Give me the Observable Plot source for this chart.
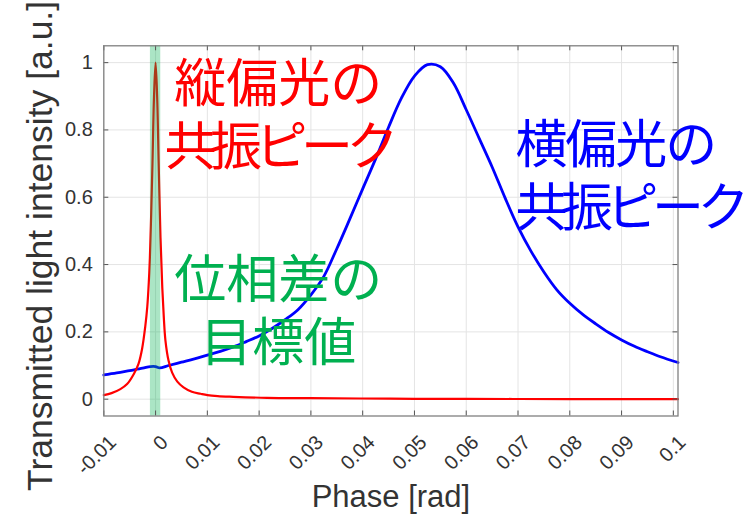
<!DOCTYPE html>
<html>
<head>
<meta charset="utf-8">
<script src="https://cdn.jsdelivr.net/npm/d3@7"></script>
<script src="https://cdn.jsdelivr.net/npm/@observablehq/plot@0.6"></script>
<style>
  html, body { margin: 0; padding: 0; background: #ffffff; }
  #chart svg { display: block; }
</style>
</head>
<body>
<div id="chart"></div>
<script>
// Vertical-polarisation resonance (red): phase [rad] and transmitted intensity [a.u.]
const redPhase = [-0.01, -0.0085, -0.0068, -0.0055, -0.0042, -0.0033, -0.0026, -0.0020,
  -0.0016, -0.0013, -0.0011, -0.00085, -0.0006, -0.0003, 0, 0.0003, 0.0006, 0.00095,
  0.0013, 0.0016, 0.0019, 0.0025, 0.0032, 0.0042, 0.0054, 0.0070, 0.0087, 0.0100,
  0.0120, 0.0150, 0.0215, 0.030, 0.0395, 0.050, 0.060, 0.070, 0.080, 0.090, 0.1009];
const redIntensity = [0.012, 0.018, 0.030, 0.045, 0.075, 0.105, 0.150, 0.215,
  0.275, 0.35, 0.42, 0.55, 0.70, 0.90, 1.0, 0.90, 0.70, 0.48,
  0.33, 0.24, 0.175, 0.115, 0.079, 0.052, 0.035, 0.022, 0.016, 0.012,
  0.009, 0.007, 0.004, 0.003, 0.002, 0.001, 0.001, 0.0005, 0.0, 0.0, 0.0];

// Horizontal-polarisation resonance (blue)
const bluePhase = [-0.01, -0.0075, -0.005, -0.0025, -0.001, 0, 0.0008, 0.0025,
  0.005, 0.0075, 0.010, 0.0125, 0.015, 0.0175, 0.020, 0.0225, 0.025, 0.0275,
  0.030, 0.0325, 0.035, 0.0375, 0.040, 0.0425, 0.045, 0.0475, 0.050, 0.0525,
  0.055, 0.0575, 0.060, 0.0625, 0.065, 0.0675, 0.070, 0.0725, 0.075, 0.0775,
  0.080, 0.0825, 0.085, 0.0875, 0.090, 0.0925, 0.095, 0.0975, 0.1009];
const blueIntensity = [0.072, 0.078, 0.085, 0.092, 0.097, 0.097, 0.093, 0.100,
  0.110, 0.120, 0.131, 0.142, 0.155, 0.171, 0.188, 0.210, 0.236, 0.266,
  0.310, 0.365, 0.447, 0.535, 0.625, 0.714, 0.808, 0.895, 0.960, 0.994,
  0.988, 0.940, 0.860, 0.775, 0.690, 0.598, 0.512, 0.440, 0.378, 0.325,
  0.285, 0.252, 0.224, 0.198, 0.176, 0.157, 0.141, 0.126, 0.109];

// Target phase difference (green band)
const targetBand = [-0.001, 0.001];

// Tick values and labels
const xTickValues = [-0.01, 0, 0.01, 0.02, 0.03, 0.04, 0.05, 0.06, 0.07, 0.08, 0.09, 0.1];
const xTickLabels = ["-0.01", "0", "0.01", "0.02", "0.03", "0.04", "0.05", "0.06", "0.07", "0.08", "0.09", "0.1"];
const yTickValues = [0, 0.2, 0.4, 0.6, 0.8, 1];
const yTickLabels = ["0", "0.2", "0.4", "0.6", "0.8", "1"];

// Annotation blocks
const redNote = "縦偏光の\n共振ピーク";
const blueNote = "横偏光の\n共振ピーク";
const greenNote = "位相差の\n目標値";

const xLabel = "Phase [rad]";
const yLabel = "Transmitted light intensity [a.u.]";

// ---- layout ----
const W = 743, H = 516;
const mL = 103.3, mR = 65.5, mT = 45.3, mB = 100.5;
const plotW = W - mL - mR, plotH = H - mT - mB;
const tickLen = 5;
const axisFont = "'Liberation Sans', Arial, Helvetica, sans-serif";
const jpFont = "'Noto Sans CJK JP', 'Noto Sans CJK SC', sans-serif";
const inkGray = "#333333";

const red = redPhase.map((x, i) => ({x, y: redIntensity[i]}));
const blue = bluePhase.map((x, i) => ({x, y: blueIntensity[i]}));
const band = [{x1: targetBand[0], x2: targetBand[1]}];

const noteStyle = {fontSize: 52, fontFamily: jpFont, lineAnchor: "middle", lineHeight: 1.21, ariaLabel: "notes"};

const chart = Plot.plot({
  width: W,
  height: H,
  marginLeft: mL,
  marginRight: mR,
  marginTop: mT,
  marginBottom: mB,
  x: {domain: [-0.01, 0.1009], axis: null},
  y: {domain: [-0.05, 1.05], axis: null},
  style: {fontFamily: axisFont, background: "#ffffff", overflow: "visible"},
  marks: [
    // grid
    Plot.ruleX(xTickValues, {x: d => d, stroke: "#e4e4e4", strokeWidth: 1}),
    Plot.ruleY(yTickValues, {y: d => d, stroke: "#e4e4e4", strokeWidth: 1}),
    // curves
    Plot.line(blue, {x: "x", y: "y", stroke: "#0000ff", strokeWidth: 2.8, curve: "catmull-rom"}),
    Plot.line(red, {x: "x", y: "y", stroke: "#ff0000", strokeWidth: 2.2, curve: "catmull-rom"}),
    // target band drawn over the curves
    Plot.rect(band, {x1: "x1", x2: "x2", fill: "#00b050", fillOpacity: 0.33}),
    // inward ticks on all four sides
    Plot.ruleX(xTickValues, {x: d => d, insetTop: plotH - tickLen, stroke: "#555555"}),
    Plot.ruleX(xTickValues, {x: d => d, insetBottom: plotH - tickLen, stroke: "#555555"}),
    Plot.ruleY(yTickValues, {y: d => d, insetRight: plotW - tickLen, stroke: "#555555"}),
    Plot.ruleY(yTickValues, {y: d => d, insetLeft: plotW - tickLen, stroke: "#555555"}),
    Plot.frame({stroke: "#808080", strokeWidth: 1.3}),
    // tick labels
    Plot.text(xTickValues, {
      x: d => d, text: (d, i) => xTickLabels[i], frameAnchor: "bottom",
      rotate: -45, textAnchor: "end", lineAnchor: "middle",
      dx: 9, dy: 23, fontSize: 20, fill: inkGray
    }),
    Plot.text(yTickValues, {
      y: d => d, text: (d, i) => yTickLabels[i], frameAnchor: "left",
      textAnchor: "end", dx: -11, fontSize: 20, fill: inkGray
    }),
    // axis titles
    Plot.text([xLabel], {text: d => d, frameAnchor: "bottom", textAnchor: "middle", dy: 91, fontSize: 31, fill: inkGray}),
    Plot.text([yLabel], {text: d => d, frameAnchor: "left", textAnchor: "middle", rotate: -90, dx: -63, dy: 15, fontSize: 35.5, fill: inkGray}),
    // annotations
    Plot.text([redNote], {x: 0.0237, y: 0.848, text: d => d, fill: "#ff0000", textAnchor: "middle", ...noteStyle}),
    Plot.text([blueNote], {x: 0.0695, y: 0.669, text: d => d, fill: "#0000ff", textAnchor: "start", ...noteStyle}),
    Plot.text([greenNote], {x: 0.0237, y: 0.268, text: d => d, fill: "#00b050", textAnchor: "middle", ...noteStyle})
  ]
});

// kana lines are set a little tighter than the kanji lines
for (const t of chart.querySelectorAll("tspan")) {
  if (t.textContent === "共振ピーク") {
    t.setAttribute("letter-spacing", "-0.125em");
    t.style.letterSpacing = "-0.125em";
  } else if (t.textContent === "横偏光の") {
    t.setAttribute("letter-spacing", "-0.04em");
    t.style.letterSpacing = "-0.04em";
  }
}

document.getElementById("chart").appendChild(chart);
</script>
</body>
</html>
